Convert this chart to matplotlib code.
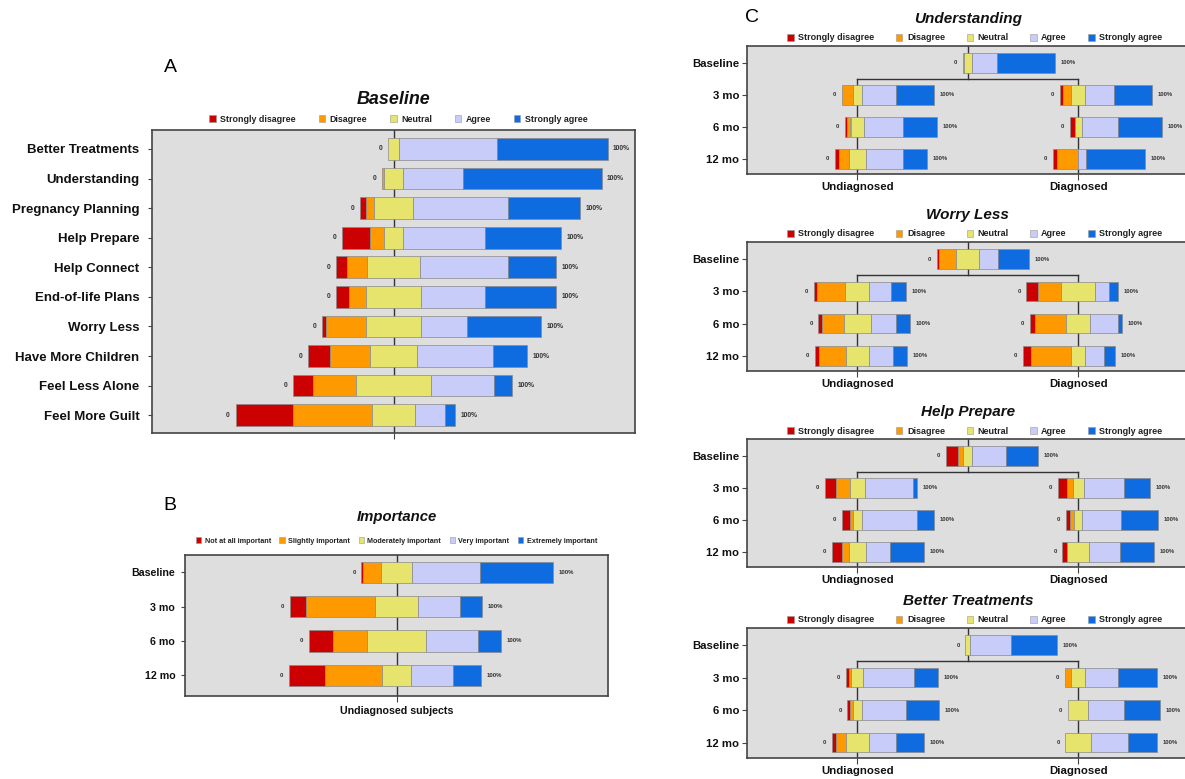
import matplotlib
matplotlib.use('Agg')
import matplotlib.pyplot as plt
from matplotlib.patches import Patch
import numpy as np

plt.rcParams['font.family'] = ['Liberation Sans', 'DejaVu Sans']

W, H = 1185, 779

colors = ['#CC0000', '#FF9900', '#E6E46C', '#C8CCF8', '#0F6CE0']
agree_levels = ['Strongly disagree', 'Disagree', 'Neutral', 'Agree', 'Strongly agree']
importance_levels = ['Not at all important', 'Slightly important', 'Moderately important',
                     'Very important', 'Extremely important']
periods = ['Baseline', '3 mo', '6 mo', '12 mo']

# Panel A - baseline, % per answer (SD, D, N, A, SA)
items_a = ['Better Treatments', 'Understanding', 'Pregnancy Planning', 'Help Prepare',
           'Help Connect', 'End-of-life Plans', 'Worry Less', 'Have More Children',
           'Feel Less Alone', 'Feel More Guilt']
baseline_a = [
    [0, 0, 5.0, 44.5, 50.5],
    [0, 1.0, 8.5, 27.5, 63.0],
    [2.8, 3.5, 17.8, 43.1, 32.8],
    [12.8, 6.3, 8.9, 37.2, 34.8],
    [4.8, 9.1, 24.3, 39.8, 22.0],
    [5.8, 7.6, 25.3, 29.2, 32.1],
    [2.0, 18.1, 25.3, 21.0, 33.6],
    [10.1, 18.1, 21.8, 34.5, 15.5],
    [9.3, 19.2, 34.6, 28.5, 8.4],
    [26.4, 35.6, 19.9, 13.4, 4.7],
]

# Panel B - importance, undiagnosed subjects
importance_b = [
    [1.0, 9.2, 16.3, 35.2, 38.3],
    [8.6, 36.0, 22.0, 22.2, 11.2],
    [12.5, 17.9, 30.5, 27.1, 12.0],
    [18.8, 29.5, 15.1, 21.7, 14.9],
]

# Panel C - baseline, then 3/6/12 mo for undiagnosed and diagnosed
topics_c = ['Understanding', 'Worry Less', 'Help Prepare', 'Better Treatments']
understanding_base = [0, 0.7, 9.1, 27.2, 63.0]
understanding_undiag = [[0, 11.7, 9.9, 36.8, 41.6], [2.9, 3.3, 15.0, 42.3, 36.5], [4.4, 11.0, 18.2, 40.5, 25.9]]
understanding_diag = [[3.3, 9.1, 15.7, 31.0, 40.9], [5.1, 0, 8.0, 39.1, 47.8], [4.7, 23.0, 0, 8.0, 64.3]]
worry_base = [2.5, 18.4, 24.9, 20.6, 33.6]
worry_undiag = [[3.2, 31.4, 26.0, 23.5, 15.9], [3.6, 23.8, 30.0, 27.1, 15.5], [4.3, 29.2, 25.6, 25.6, 15.3]]
worry_diag = [[13.0, 24.5, 37.5, 15.2, 9.8], [5.1, 33.9, 26.7, 29.6, 4.7], [8.3, 44.0, 15.5, 19.9, 12.3]]
prepare_base = [13.0, 6.1, 9.4, 36.5, 35.0]
prepare_undiag = [[12.3, 15.2, 15.5, 53.0, 4.0], [9.4, 2.9, 9.4, 59.9, 18.4], [11.6, 7.2, 18.0, 26.0, 37.2]]
prepare_diag = [[9.8, 6.2, 12.3, 43.5, 28.2], [5.1, 4.3, 8.3, 42.8, 39.5], [5.1, 0, 24.5, 33.1, 37.3]]
treat_base = [0, 0, 5.4, 44.2, 50.4]
treat_undiag = [[2.9, 2.9, 13.0, 54.6, 26.6], [3.2, 3.2, 9.0, 47.9, 36.7], [4.3, 10.8, 25.6, 29.3, 30.0]]
treat_diag = [[0, 6.8, 15.8, 35.3, 42.1], [0, 0, 21.9, 38.7, 39.4], [0, 0, 28.0, 39.6, 32.4]]
group_labels = ['Undiagnosed', 'Diagnosed']
group_centers = [0, 240]
baseline_center = 120

fig = plt.figure(figsize=(W / 100, H / 100), dpi=100)
fig.patch.set_facecolor('white')


def add_ax(left, top, right, bottom):
    ax = fig.add_axes([left / W, 1 - bottom / H, (right - left) / W, (bottom - top) / H])
    ax.set_facecolor('#DEDEDE')
    for s in ax.spines.values():
        s.set_color('#444444')
        s.set_linewidth(1.2)
    return ax


def draw_bar(ax, vals, y, center, height, fs):
    vals = np.asarray(vals, float)
    vals = vals / vals.sum() * 100
    left = center - vals[0] - vals[1] - vals[2] / 2
    start = left
    for v, c in zip(vals, colors):
        if v > 0:
            ax.barh(y, v, left=left, height=height, color=c, edgecolor='#8a8a8a',
                    linewidth=0.5, zorder=3)
        left += v
    ax.annotate('0', (start, y), xytext=(-4, 0), textcoords='offset points', ha='right',
                va='center', fontsize=fs, fontweight='bold', color='#333333')
    ax.annotate('100%', (left, y), xytext=(4, 0), textcoords='offset points', ha='left',
                va='center', fontsize=fs, fontweight='bold', color='#333333')


def add_legend(ax, labels, y_off_px, fs, colspace, x_off_px=0):
    handles = [Patch(facecolor=c, edgecolor='#999999', linewidth=0.4) for c in colors]
    pos = ax.get_position()
    h_px = pos.height * H
    w_px = pos.width * W
    leg = ax.legend(handles, labels, loc='center',
                    bbox_to_anchor=(0.5 + x_off_px / w_px, 1 + y_off_px / h_px),
                    ncol=5, frameon=False, handlelength=0.7, handleheight=0.7,
                    handletextpad=0.5, columnspacing=colspace,
                    prop={'weight': 'bold', 'size': fs})
    for t in leg.get_texts():
        t.set_color('#222222')


def add_title(ax, text, y_off_px, fs):
    h_px = ax.get_position().height * H
    ax.text(0.5, 1 + y_off_px / h_px, text, transform=ax.transAxes, ha='center', va='center',
            fontsize=fs, fontweight='bold', fontstyle='italic', color='#111111')


# ---------- Panel A ----------
axA = add_ax(152, 130, 635, 433)
ya = np.arange(len(items_a))
axA.axvline(0, color='#333333', lw=1, zorder=1)
for vals, y in zip(baseline_a, ya):
    draw_bar(axA, vals, y, 0, 0.73, 4.8)
axA.set_xlim(-110, 110)
axA.set_ylim(len(items_a) - 0.4, -0.64)
axA.set_yticks(ya)
axA.set_yticklabels(items_a, fontsize=9.5, fontweight='bold', color='#111111')
axA.set_xticks([0])
axA.set_xticklabels([''])
axA.tick_params(axis='y', length=3, pad=6, color='#444444')
axA.tick_params(axis='x', length=4, color='#444444')
add_title(axA, 'Baseline', 31, 12.9)
add_legend(axA, agree_levels, 11, 6.4, 2.6, 5)
fig.text(170 / W, 1 - 67 / H, 'A', fontsize=14, ha='center', va='center')

# ---------- Panel B ----------
axB = add_ax(185, 555, 608, 696)
yb = np.arange(len(periods))
axB.axvline(0, color='#333333', lw=1, zorder=1)
for vals, y in zip(importance_b, yb):
    draw_bar(axB, vals, y, 0, 0.62, 4.3)
axB.set_xlim(-110, 110)
axB.set_ylim(len(periods) - 0.4, -0.5)
axB.set_yticks(yb)
axB.set_yticklabels(periods, fontsize=7.7, fontweight='bold', color='#111111')
axB.set_xticks([0])
axB.set_xticklabels(['Undiagnosed subjects'], fontsize=7.7, fontweight='bold', color='#111111')
axB.tick_params(axis='y', length=3, pad=4, color='#444444')
axB.tick_params(axis='x', length=4, pad=3, color='#444444')
add_title(axB, 'Importance', 38, 10.7)
add_legend(axB, importance_levels, 14, 5.2, 1.2)
fig.text(170 / W, 1 - 505 / H, 'B', fontsize=14, ha='center', va='center')

# ---------- Panel C ----------
c_data = [
    (understanding_base, understanding_undiag, understanding_diag),
    (worry_base, worry_undiag, worry_diag),
    (prepare_base, prepare_undiag, prepare_diag),
    (treat_base, treat_undiag, treat_diag),
]
c_frames = [(46, 174), (242, 371), (439, 567), (628, 758)]
c_left, c_pct = 747, 92.0
for topic, (base, undiag, diag), (top, bottom) in zip(topics_c, c_data, c_frames):
    right = c_left + 480 * c_pct / 100
    ax = add_ax(c_left, top, right, bottom)
    yc = np.arange(len(periods))
    ytop, ybot = -0.53, len(periods) - 0.53
    # connector tree
    ax.plot([baseline_center, baseline_center], [ytop, 0.5], color='#333333', lw=1, zorder=1)
    ax.plot([group_centers[0], group_centers[1]], [0.5, 0.5], color='#333333', lw=1, zorder=1)
    for gc in group_centers:
        ax.plot([gc, gc], [0.5, ybot], color='#333333', lw=1, zorder=1)
    draw_bar(ax, base, 0, baseline_center, 0.6, 4.2)
    for i in range(3):
        draw_bar(ax, undiag[i], i + 1, group_centers[0], 0.6, 4.2)
        draw_bar(ax, diag[i], i + 1, group_centers[1], 0.6, 4.2)
    ax.set_xlim(-120, 360)
    ax.set_ylim(ybot, ytop)
    ax.set_yticks(yc)
    ax.set_yticklabels(periods, fontsize=8.2, fontweight='bold', color='#111111')
    ax.set_xticks(group_centers)
    ax.set_xticklabels(group_labels, fontsize=8.2, fontweight='bold', color='#111111')
    ax.tick_params(axis='y', length=3.5, pad=2, color='#444444')
    ax.tick_params(axis='x', length=4, pad=2, color='#444444')
    add_title(ax, topic, 27, 11)
    add_legend(ax, agree_levels, 8, 6.5, 2.4, 7)

fig.text(752 / W, 1 - 18 / H, 'C', fontsize=14, ha='center', va='center')

fig.savefig('out.png', dpi=100)
